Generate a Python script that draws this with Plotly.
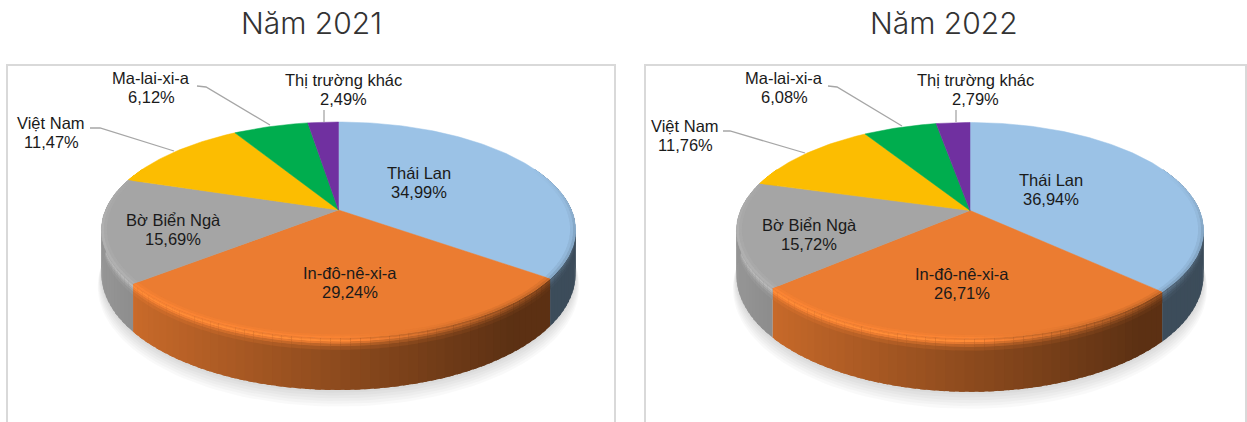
import numpy as np
import plotly.graph_objects as go

categories = ["Thái Lan", "In-đô-nê-xi-a", "Bờ Biển Ngà", "Việt Nam", "Ma-lai-xi-a", "Thị trường khác"]
values_2021 = [34.99, 29.24, 15.69, 11.47, 6.12, 2.49]
values_2022 = [36.94, 26.71, 15.72, 11.76, 6.08, 2.79]
slice_colors = ["#9BC2E6", "#EB7C31", "#A5A5A5", "#FCBD01", "#00AD4E", "#7030A0"]
titles = ["Năm 2021", "Năm 2022"]

panels = [
    dict(values=values_2021, title=titles[0], cx=338.5, cy=210, b=233, a=104.3, k=0.185, H=42.4,
         frame=(7, 615), title_x=311,
         labels=[(419, 182), (350, 282), (173, 229), (51, 132), (151, 87), (343, 89)],
         leaders=[None, None, None,
                  [(90, 128), (100, 128), (174, 151)],
                  [(197, 86), (206, 87), (270, 125)],
                  [(324, 110), (324, 122)]]),
    dict(values=values_2022, title=titles[1], cx=970, cy=210.5, b=229.5, a=104.3, k=0.185, H=43.5,
         frame=(645, 1246), title_x=944,
         labels=[(1051, 189), (962, 283), (809, 234), (685, 135), (784, 87), (975, 89)],
         leaders=[None, None, None,
                  [(723, 131), (730, 131), (805, 153)],
                  [(828, 86), (837, 87), (902, 126)],
                  [(956, 110), (956, 122)]]),
]


def rgb(hex_c):
    return np.array([int(hex_c[i:i + 2], 16) for i in (1, 3, 5)], dtype=float)


def css(c):
    c = np.clip(c, 0, 255).round().astype(int)
    return f"rgb({c[0]},{c[1]},{c[2]})"


def project(p, t, r=1.0, z=0.0):
    c, s = r * np.sin(t), r * np.cos(t)
    d = 1 + p["k"] * s
    return p["cx"] + p["b"] * c / d, p["cy"] - p["a"] * s / d + z * p["H"] / d


def poly(fig, xs, ys, color, width=0.0):
    fig.add_trace(go.Scatter(
        x=xs, y=ys, mode="lines", fill="toself", fillcolor=color,
        line=dict(color=color, width=width),
        hoverinfo="skip", showlegend=False))


def rim_light(sx):
    """Brightness of the rounded rim: bright on the front and left, falling to the right."""
    return 1.13 - 0.62 * float(np.clip(sx / 0.85, 0, 1))


fig = go.Figure()
rim_levels = [0.0, 0.03, 0.07, 0.11, 0.16, 0.22]
rim_mix = [0.75, 1.0, 0.7, 0.38, 0.14]
ring_radii = [0.978, 0.99, 1.0]
ring_mix = [0.2, 0.5]
STEP = np.radians(2.0)

for p in panels:
    vals = np.array(p["values"], dtype=float)
    edges = np.concatenate([[0], np.cumsum(vals)]) / vals.sum() * 2 * np.pi

    tt = np.linspace(0, 2 * np.pi, 181)
    for g in range(7):
        x, y = project(p, tt, 1.0 + 0.0025 * g, 1.0 + 0.045 * g)
        poly(fig, x, y, "rgba(0,0,0,0.022)")

    vis0, vis1 = np.radians(65), np.radians(295)
    bands = []
    for i, base_hex in enumerate(slice_colors):
        t0, t1 = max(edges[i], vis0), min(edges[i + 1], vis1)
        if t1 <= t0:
            continue
        n = max(1, int(round((t1 - t0) / STEP)))
        cuts = np.linspace(t0, t1, n + 1)
        base = rgb(base_hex)
        for a0, a1 in zip(cuts[:-1], cuts[1:]):
            mid = (a0 + a1) / 2
            sx = np.sin(mid)
            f = float(np.clip(0.60 - 0.33 * sx, 0.39, 0.9))
            wall = base * f
            light = base * rim_light(sx)
            far = min(a1 + np.radians(1.2), t1)
            arc = np.linspace(a0, far, 4)
            # the face's rounded edge fades in away from the ends of the visible arc
            fade = min(np.clip((mid - vis0) / np.radians(35), 0, 1),
                       np.clip((vis1 - mid) / np.radians(35), 0, 1))
            ring_light = base * max(rim_light(sx), 0.72)
            bands.append((arc, base, ring_light, fade))
            xt, yt = project(p, arc, 1.0, 0.0)
            xb, yb = project(p, arc, 1.0, 1.0)
            poly(fig, np.r_[xt, xb[::-1]], np.r_[yt, yb[::-1]], css(wall))
            for lv, w in enumerate(rim_mix):
                xt, yt = project(p, arc, 1.0, rim_levels[lv])
                xb, yb = project(p, arc, 1.0, rim_levels[lv + 1] + 0.008)
                poly(fig, np.r_[xt, xb[::-1]], np.r_[yt, yb[::-1]], css(wall * (1 - w) + light * w))

    for i, base_hex in enumerate(slice_colors):
        arc = np.linspace(edges[i], edges[i + 1], max(3, int(np.degrees(edges[i + 1] - edges[i]))))
        x, y = project(p, arc)
        poly(fig, np.r_[p["cx"], x, p["cx"]], np.r_[p["cy"], y, p["cy"]], base_hex, width=0.5)

    for arc, base, ring_light, fade in bands:
        for lv, w in enumerate(ring_mix):
            x0, y0 = project(p, arc, ring_radii[lv], 0.0)
            x1, y1 = project(p, arc, ring_radii[lv + 1], 0.0)
            poly(fig, np.r_[x0, x1[::-1]], np.r_[y0, y1[::-1]],
                 css(base * (1 - w * fade) + ring_light * w * fade))

    for pts in p["leaders"]:
        if pts:
            fig.add_trace(go.Scatter(
                x=[q[0] for q in pts], y=[q[1] for q in pts], mode="lines",
                line=dict(color="#A6A6A6", width=1.3), hoverinfo="skip", showlegend=False))

    for name, v, (lx, ly) in zip(categories, p["values"], p["labels"]):
        for txt, dy in ((name, -9.5), (f"{v:.2f}%".replace(".", ","), 9.5)):
            fig.add_annotation(x=lx, y=ly + dy, text=txt,
                               showarrow=False, xanchor="center", yanchor="middle",
                               font=dict(family="Liberation Sans", size=16.5, color="#1a1a1a"))

    fig.add_annotation(x=p["title_x"], y=23, text=p["title"], showarrow=False,
                       xanchor="center", yanchor="middle",
                       font=dict(family="Inter", size=30, color="#333333", weight=300))

    x0, x1 = p["frame"]
    fig.add_shape(type="path", path=f"M {x0} 430 L {x0} 65 L {x1} 65 L {x1} 430",
                  line=dict(color="#D9D9D9", width=2), layer="below")

fig.update_layout(
    width=1247, height=422, autosize=False,
    margin=dict(l=0, r=0, t=0, b=0),
    paper_bgcolor="white", plot_bgcolor="white", showlegend=False,
    xaxis=dict(range=[0, 1247], visible=False, fixedrange=True),
    yaxis=dict(range=[422, 0], visible=False, fixedrange=True),
)
fig.write_html("out.html", config=dict(displayModeBar=False),
               post_script="document.body.style.margin='0';document.body.style.overflow='hidden';")
